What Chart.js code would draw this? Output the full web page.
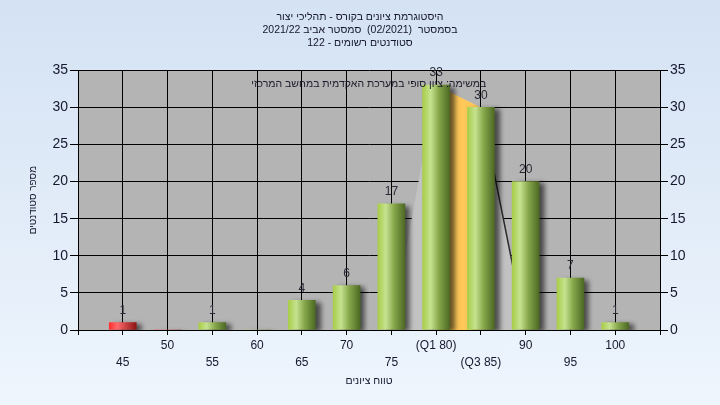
<!DOCTYPE html>
<html>
<head>
<meta charset="utf-8">
<script src="https://cdn.jsdelivr.net/npm/chart.js@4.4.0/dist/chart.umd.min.js"></script>
<style>
  html, body { margin: 0; padding: 0; }
  body { width: 720px; height: 405px; background: linear-gradient(#d4e2f3, #eef5fd); overflow: hidden; }
  canvas { display: block; }
</style>
</head>
<body>
<canvas id="histChart" width="720" height="405" dir="rtl"></canvas>
<script>
var grades = [45, 50, 55, 60, 65, 70, 75, 80, 85, 90, 95, 100];
var counts = [1, 0, 1, 0, 4, 6, 17, 33, 30, 20, 7, 1];
var tickNames = { 80: '(Q1 80)', 85: '(Q3 85)' };
var areaX = [75, 80, 85, 90];
var areaY = [0, 33, 30, 0];
var quartX = [80, 85];
var quartY = [33, 30];
var titleLines = ['היסטוגרמת ציונים בקורס - תהליכי יצור', 'בסמסטר  (02/2021)  סמסטר אביב 2021/22', 'סטודנטים רשומים - 122'];
var noteText = 'במשימה: ציון סופי במערכת האקדמית במחשב המרכזי';
var passGrade = 55;

var fontFamily = "'Liberation Sans', 'DejaVu Sans', sans-serif";
var textColor = '#15182e';

function barFill(c) {
    var xs = c.chart.scales.x;
    if (!xs || c.type !== 'data') return '#9cc44a';
    var cx = xs.getPixelForValue(grades[c.dataIndex]);
    if (!isFinite(cx)) return '#9cc44a';
    var g = c.chart.ctx.createLinearGradient(cx - 14, 0, cx + 14, 0);
    if (grades[c.dataIndex] < passGrade) {
        g.addColorStop(0, '#ff2a2a');
        g.addColorStop(0.3, '#ff6a6a');
        g.addColorStop(1, '#8a1212');
    } else {
        g.addColorStop(0, '#a6cc44');
        g.addColorStop(0.3, '#c6e290');
        g.addColorStop(0.6, '#86a64a');
        g.addColorStop(1, '#4a6622');
    }
    return g;
}

var plotBg = {
    id: 'plotBg',
    beforeDraw: function(chart) {
        var a = chart.chartArea, ctx = chart.ctx;
        ctx.save();
        ctx.fillStyle = '#b4b4b4';
        ctx.fillRect(a.left, a.top, a.right - a.left, a.bottom - a.top);
        ctx.restore();
    },
    beforeDatasetDraw: function(chart, args) {
        if (args.index !== 0) return;
        var ctx = chart.ctx;
        ctx.save();
        ctx.shadowColor = 'rgba(0,0,0,0.6)';
        ctx.shadowOffsetX = 5;
        ctx.shadowOffsetY = 2;
        ctx.shadowBlur = 5;
    },
    afterDatasetDraw: function(chart, args) {
        if (args.index !== 0) return;
        chart.ctx.restore();
    },
    afterDatasetsDraw: function(chart) {
        var ctx = chart.ctx;
        var meta = chart.getDatasetMeta(0);
        ctx.save();
        ctx.font = '12px ' + fontFamily;
        ctx.fillStyle = '#2a2a36';
        ctx.textAlign = 'center';
        ctx.textBaseline = 'middle';
        meta.data.forEach(function(bar, i) {
            if (!counts[i]) return;
            ctx.fillText(String(counts[i]), bar.x, bar.y - 12);
        });
        ctx.direction = 'rtl';
        ctx.textAlign = 'right';
        ctx.fillStyle = '#1a1a2a';
        ctx.font = '10.5px ' + fontFamily;
        ctx.fillText(noteText, chart.scales.x.getPixelForValue(85.6), chart.scales.y.getPixelForValue(33.2));
        ctx.restore();
    }
};

var ctx = document.getElementById('histChart').getContext('2d');
var histChart = new Chart(ctx, {
    type: 'bar',
    data: {
        datasets: [{
            type: 'bar',
            data: grades.map(function(g, i) { return { x: g, y: counts[i] }; }),
            backgroundColor: barFill,
            borderWidth: 0,
            barThickness: 27,
            order: 1
        }, {
            type: 'line',
            data: quartX.map(function(x, i) { return { x: x, y: quartY[i] }; }),
            backgroundColor: '#ffc858',
            borderWidth: 0,
            pointRadius: 0,
            fill: 'origin',
            order: 2
        }, {
            type: 'line',
            data: areaX.map(function(x, i) { return { x: x, y: areaY[i] }; }),
            backgroundColor: '#c2c2c2',
            borderWidth: 1.5,
            segment: {
                borderColor: function(s) { return s.p1DataIndex === areaX.length - 1 ? '#2a2a2a' : 'rgba(0,0,0,0)'; }
            },
            pointRadius: 0,
            fill: 'origin',
            order: 3
        }]
    },
    options: {
        responsive: false,
        animation: false,
        layout: { padding: { top: 0, right: 0, bottom: 0, left: 0 } },
        plugins: {
            legend: { display: false },
            tooltip: { enabled: false },
            title: {
                display: true,
                text: titleLines,
                color: textColor,
                font: { family: fontFamily, size: 10.5, weight: 'normal', lineHeight: 1.28 },
                padding: { top: 10, bottom: 20 }
            }
        },
        scales: {
            x: {
                type: 'linear',
                offset: false,
                min: 40,
                max: 105,
                afterFit: function(s) { s.height = 75; },
                grid: { color: '#000', tickColor: '#000', tickLength: 5, offset: false },
                border: { color: '#000' },
                ticks: {
                    stepSize: 5,
                    autoSkip: false,
                    maxRotation: 0,
                    padding: 2,
                    color: textColor,
                    font: { family: fontFamily, size: 12, lineHeight: 1.4 },
                    callback: function(v) {
                        if (v < 45 || v > 100) return '';
                        var name = tickNames[v] || String(v);
                        return ((v - 45) / 5) % 2 === 1 ? [name, ''] : ['', name];
                    }
                },
                title: {
                    display: true,
                    text: 'טווח ציונים',
                    color: textColor,
                    font: { family: fontFamily, size: 10.5 },
                    padding: { top: 0, bottom: 18 }
                }
            },
            y: {
                position: 'left',
                min: 0,
                max: 35,
                afterFit: function(s) { s.width = 78; },
                grid: { color: '#000', tickColor: '#000', tickLength: 8 },
                border: { color: '#000' },
                ticks: {
                    stepSize: 5,
                    padding: 2,
                    color: textColor,
                    font: { family: fontFamily, size: 14 }
                },
                title: {
                    display: true,
                    text: 'מספר סטודנטים',
                    color: textColor,
                    font: { family: fontFamily, size: 10 },
                    padding: { top: 27, bottom: 0 }
                }
            },
            y2: {
                position: 'right',
                min: 0,
                max: 35,
                afterFit: function(s) { s.width = 60; },
                grid: { drawOnChartArea: false, color: '#000', tickColor: '#000', tickLength: 8 },
                border: { color: '#000' },
                ticks: {
                    stepSize: 5,
                    padding: 2,
                    color: textColor,
                    font: { family: fontFamily, size: 14 }
                }
            }
        }
    },
    plugins: [plotBg]
});
</script>
</body>
</html>
